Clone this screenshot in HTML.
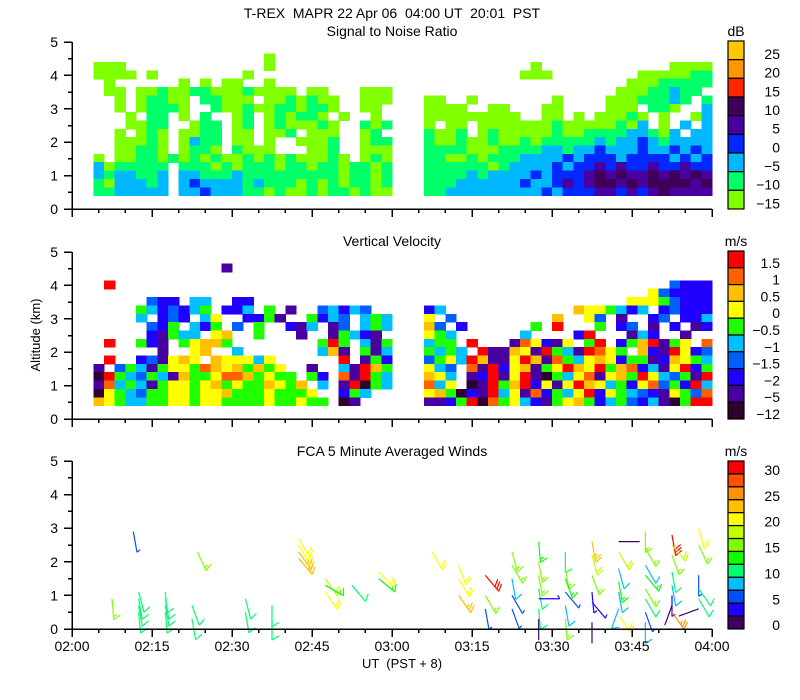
<!DOCTYPE html>
<html><head><meta charset="utf-8"><style>
body{margin:0;background:#fff;}
svg{display:block;font-family:"Liberation Sans",sans-serif;}
text{font-size:14px;fill:#000;white-space:pre;}
</style></head><body>
<svg id="chart" width="800" height="700" viewBox="0 0 800 700" xml:space="preserve">
<text x="392" y="18" text-anchor="middle">T-REX  MAPR 22 Apr 06  04:00 UT  20:01  PST</text>
<text x="392" y="36" text-anchor="middle">Signal to Noise Ratio</text>
<text x="392" y="246" text-anchor="middle">Vertical Velocity</text>
<text x="392" y="456" text-anchor="middle">FCA 5 Minute Averaged Winds</text>
<text transform="translate(40,335) rotate(-90)" text-anchor="middle" style="font-size:13px">Altitude (km)</text>
<text x="402" y="668" text-anchor="middle" style="font-size:13px">UT  (PST + 8)</text>
<text x="736" y="36" text-anchor="middle">dB</text>
<text x="736" y="246" text-anchor="middle">m/s</text>
<text x="736" y="456" text-anchor="middle">m/s</text>
<g id="layers"></g>
</svg>
<script>
// ---- data ----
const timeTickLabels = ["02:00","02:15","02:30","02:45","03:00","03:15","03:30","03:45","04:00"];
const altTickLabels = ["0","1","2","3","4","5"];
const snrLabelsFixed = ["25","20","15","10","5","0","\u22125","\u221210","\u221215"];
const snrColors = ["#ffc800","#ff9800","#ff2800","#400058","#4800a0","#0028ff","#00b8ff","#00ff68","#80ff00"];
const vvLabels = ["1.5","1","0.5","0","\u22120.5","\u22121","\u22121.5","\u22122","\u22125","\u221212"];
const vvColors = ["#ff0000","#ff6000","#ffc000","#ffff00","#20ff00","#00c0ff","#0060ff","#2000ff","#4800a0","#300030"];
const windLabels = ["30","25","20","15","10","5","0"];
const windColors = ["#400060","#2000ff","#0050ff","#00c0ff","#00ff70","#10ff00","#80ff00","#c0ff00","#ffff00","#ffc000","#ff9000","#ff5000","#ff0000"];
// SNR heatmap rows (top row = 4.65-4.9 km, bottom = 0.4-0.65 km), 2-minute columns
const snrRows = [
".......... .......... .......... .......... .......... ..........",
".......... ........1. .......... .......... .......... ..........",
"..111..... ........1. .......... .......... ...1...... ......1111",
"..1111.1.. ......1... .......... .......... ..111..... ...1111122",
"...1...... 1.1.11..1. .......... .......... .......... ..11122222",
"...11.1121 1221112111 1.11...111 .......... .......... .11122322.",
"....1.1221 1.22111.11 21211..111 ...11..1.. .....1.... 11122232.2",
"....1.1222 1..2112112 21221..11. ...1111..1 1...11.... 111.221..3",
".....1.22. 1.2..12.12 1221.1..1. ...1111111 11..11.1.1 1121.1..13",
".....1122. .122.12.12 11121..212 ...1.11.11 1111121111 1213.1.3.3",
"....1.121. 1122.11.11 2.111..12. ...2112.12 1111121122 2233213.33",
"....11121. 1322.11.1. .1112..122 ...2112112 1121222223 2334323333",
"....11221. 1221.2111. ..112..111 ...2222111 2222332334 3334334343",
"..1.112212 1212112121 211121.121 ...2211212 2233334344 4344443434",
"..3122222. 2221212221 2212212212 ...2222221 2333343445 4544544544",
"..3233223. 3322232222 2222212212 ...2222323 3334344456 5655656565",
"..2133323. 3433332322 2121212212 ...2223333 3343345456 6565666656",
"..2233333. 3343332212 1121221211 ...2233333 3333434445 5454565555"
];
// Vertical velocity heatmap rows (same grid)
const vvRows = [
".......... .......... .......... .......... .......... ..........",
".......... ....I..... .......... .......... .......... ..........",
".......... .......... .......... .......... .......... ..........",
"...R...... .......... .......... .......... .......... ......LBBB",
".......... .......... .......... .......... .......... ....YLBBBB",
".......LBB .CC..BB... .......... .......... .......... ..YYYGLBBB",
"......GCBL BCG.BBC.G. I..LCBCL.. ...BC..... .......AYY GCBC.BLBBB",
"......C.BL B.CY..BBGI ..GBCL.CGC ...Y.L.... .....A..YL .I..BL.BBC",
".......LBG .CBG.L.G.. BIC.IL.CGC ...AL.B... ...G.R...G .BL.I.B.IB",
".......BIG CC.YA..G.. .I..IGCBI. ...YGC.... ..C....BR. ..ICB..I..",
"...R..GBI. GYAAG..... ...GRG.CIG ...CGG.R.. .IOYBIY.GR .BGARIGY.O",
"........I. .YA..C.... ...CAI.GIC ...GCGC.RI IAYIRGCIRO YG.ABIRYBL",
"...R..BLIY AY.AYYYCY. .....R.IGB ...LGYCRAI IYRAIOGCYA YBGGIBAYGC",
"..I.LGCIGY YGOAYAGAGY ..I..CIRAG ...YCL.OIR BYAIGYRAYR GAOBCIYRBG",
"..DRGCLGCI AGGYOOAGYG G.GB.OIRGC ...AYC.IBR IYRIDGCYOI YAGRYCLGIR",
"..IOCGCIGY YGYAGYGGAY GA.C.IRDGC ...OCY.DIR GARBYIYRAY CGBYOLGBRC",
"..DYGCLGGY YGYYAGGGYG GGY..BGC.. ...YAGDBIR CYIOBGCYRB YGCLBIYGLO",
"..AYGCCGGY YGYYGGGGYG GYGG.DI... ...IIBGRDO GYCBIGYAGB CGLBCIDGRR"
];
// Wind barbs: time (min after 02:00), altitude of staff top (km), speed (m/s), direction (deg)
const windTimes = [7.5,11.5,12.5,12.5,12.5,12.5,17.5,17.5,17.5,17.5,22.5,22.5,23.5,32.5,32.5,37.5,37.5,
42.5,42.5,42.5,42.5,47.5,47.5,47.5,52.5,57.5,57.5,67.5,72.5,72.5,72.5,77.5,77.5,77.5,
82.5,82.5,82.5,82.5,82.5,87.5,87.5,87.5,87.5,87.5,87.5,87.5,92.5,92.5,92.5,92.5,92.5,92.5,
97.5,97.5,97.5,97.5,97.5,97.5,102.5,102.5,102.5,102.5,102.5,102.5,102.5,
107.5,107.5,107.5,107.5,107.5,107.5,107.5,107.5,112.5,112.5,112.5,112.5,112.5,112.5,112.5,112.5,
117.5,117.5,117.5,117.5,117.5,117.5];
const windAlts = [0.9,2.9,1.1,0.9,0.7,0.5,1.1,0.9,0.7,0.5,0.7,0.3,2.3,0.9,0.5,0.7,0.3,
2.7,2.5,2.3,2.1,1.5,1.3,1.1,1.3,1.7,1.5,2.3,1.9,1.5,1.0,1.6,1.0,0.6,
2.3,1.9,1.5,1.0,0.6,2.6,2.0,1.6,1.2,0.9,0.6,0.3,2.3,1.8,1.5,1.1,0.7,0.3,
2.6,2.2,1.6,1.1,0.8,0.2,2.6,2.3,1.8,1.4,1.1,0.6,0.4,
2.9,2.4,1.9,1.6,1.2,0.9,0.5,0.2,2.8,2.5,2.2,1.7,1.3,1.0,0.7,0.5,
3.0,2.5,1.6,1.2,0.9,0.6];
const windSpeeds = [15,5,12,12,12,12,12,12,12,12,12,11,17,12,12,11,11,
20,21,23,24,18,13,22,12,20,13,22,20,22,23,30,17,5,
17,16,9,5,5,13,15,17,12,4,10,1,12,17,13,5,8,15,
23,18,15,4,4,2,1,18,8,13,9,9,22,
16,15,9,13,17,10,5,9,30,18,16,12,9,4,1,25,
20,17,5,12,11,1];
const windDirs = [175,170,165,170,170,175,175,170,170,175,160,170,155,165,170,180,180,
150,150,145,140,145,120,145,140,135,130,150,160,150,145,140,150,170,
165,150,170,150,160,175,170,170,170,90,175,180,180,170,160,140,170,175,
170,165,160,175,140,180,90,150,165,170,170,200,145,
180,150,150,140,150,150,160,180,170,140,160,170,170,180,200,145,
165,155,180,145,150,250];

// ---- geometry ----
const X0=72, X1=712;
const panels=[{y0:209,y5:42},{y0:419,y5:252},{y0:629,y5:461}];
const NS="http://www.w3.org/2000/svg";
const layers=document.getElementById('layers');
function mk(tag,attrs,parent){const e=document.createElementNS(NS,tag);for(const k in attrs)e.setAttribute(k,attrs[k]);(parent||layers).appendChild(e);return e;}
function xScale(min){return X0+min*(X1-X0)/120;}
function yScale(p,alt){return p.y0-alt*(p.y0-p.y5)/5;}

// heatmaps
const snrMap={"1":"#80ff00","2":"#00ff68","3":"#00b8ff","4":"#0028ff","5":"#4800a0","6":"#400058","7":"#ff2800"};
const vvMap={R:"#ff0000",O:"#ff6000",A:"#ffc000",Y:"#ffff00",G:"#20ff00",C:"#00c0ff",L:"#0060ff",B:"#2000ff",I:"#4800a0",D:"#300030"};
function drawHeat(rows,map,p,name){
  const g=mk('g',{'shape-rendering':'crispEdges'});
  
  
  const nR=rows.length;
  rows.forEach((rs,ri)=>{
    const s=rs.replace(/ /g,'');
    const altLo=0.4+0.25*(nR-1-ri);
    for(let c=0;c<s.length;c++){
      const col=map[s[c]]; if(!col) continue;
      const xa=xScale(c*2), xb=xScale(c*2+2);
      const ya=yScale(p,altLo+0.25), yb=yScale(p,altLo);
      const r=mk('rect',{x:xa.toFixed(1),y:ya.toFixed(1),width:(xb-xa+0.6).toFixed(1),height:(yb-ya+0.6).toFixed(1),fill:col},g);
      
      
    }
  });
}
drawHeat(snrRows,snrMap,panels[0],'snr-heatmap');
drawHeat(vvRows,vvMap,panels[1],'vv-heatmap');

// wind barbs: staff hangs down from the plotted point, feathers at the lower end
const wg=mk('g',{});


windTimes.forEach((t,i)=>{
  const sp=windSpeeds[i], d=windDirs[i]*Math.PI/180;
  const col=windColors[Math.min(12,Math.floor(sp/2.5))];
  const bx=xScale(t), by=yScale(panels[2],windAlts[i]);
  const L=21, ux=Math.sin(d), uy=-Math.cos(d);
  const tx=bx+ux*L, ty=by+uy*L;
  const g=mk('g',{stroke:col,'stroke-width':1.2,fill:'none'},wg);
  
  
  mk('line',{x1:bx,y1:by,x2:tx,y2:ty},g);
  const th=-120*Math.PI/180;
  const fx=ux*Math.cos(th)-uy*Math.sin(th), fy=ux*Math.sin(th)+uy*Math.cos(th);
  let rem=Math.round(sp/5)*5, k=0;
  while(rem>=10){const px=tx-ux*3*k, py=ty-uy*3*k; mk('line',{x1:px,y1:py,x2:px+fx*8,y2:py+fy*8},g); rem-=10;k++;}
  if(rem>=5){const px=tx-ux*3*k, py=ty-uy*3*k; mk('line',{x1:px,y1:py,x2:px+fx*4,y2:py+fy*4},g);}
});

// axes
panels.forEach((p,pi)=>{
  const g=mk('g',{stroke:'#000','stroke-width':1.5,'shape-rendering':'crispEdges'});
  
  
  mk('line',{x1:X0,y1:p.y0,x2:X1,y2:p.y0},g);
  mk('line',{x1:X0,y1:p.y0,x2:X0,y2:p.y5},g);
  for(let m=0;m<=120;m+=5){const x=xScale(m);mk('line',{x1:x,y1:p.y0,x2:x,y2:p.y0+(m%15===0?8:4)},g);}
  for(let a=0;a<=10;a++){const y=yScale(p,a/2);mk('line',{x1:X0,y1:y,x2:X0-(a%2===0?8:4),y2:y},g);}
  altTickLabels.forEach((lb,a)=>{
    const t=mk('text',{x:58,y:yScale(p,a)+5,'text-anchor':'end'});
    t.textContent=lb;
    
    
  });
});
timeTickLabels.forEach((lb,i)=>{
  const t=mk('text',{x:xScale(i*15),y:651,'text-anchor':'middle'});
  t.textContent=lb;
  
  
});

// colorbars
function colorbar(colors,labels,top,bot,name,labelEvery){
  const g=mk('g',{});
  
  
  const n=colors.length,h=(bot-top)/n;
  colors.forEach((c,i)=>{
    const r=mk('rect',{x:728,y:top+i*h,width:16,height:h,fill:c,stroke:'#000','stroke-width':1.2},g);
    
    
  });
  labels.forEach((lb,j)=>{
    const i=j*labelEvery;
    const t=mk('text',{x:780,y:top+i*h+h*0.7+5,'text-anchor':'end'},g);
    t.textContent=lb;
    
    
  });
}
colorbar(snrColors,snrLabelsFixed,41,209,'snr-colorbar',1);
colorbar(vvColors,vvLabels,251,419,'vv-colorbar',1);
colorbar(windColors.slice().reverse(),windLabels,461,629,'wind-colorbar',2);
</script>
</body></html>
